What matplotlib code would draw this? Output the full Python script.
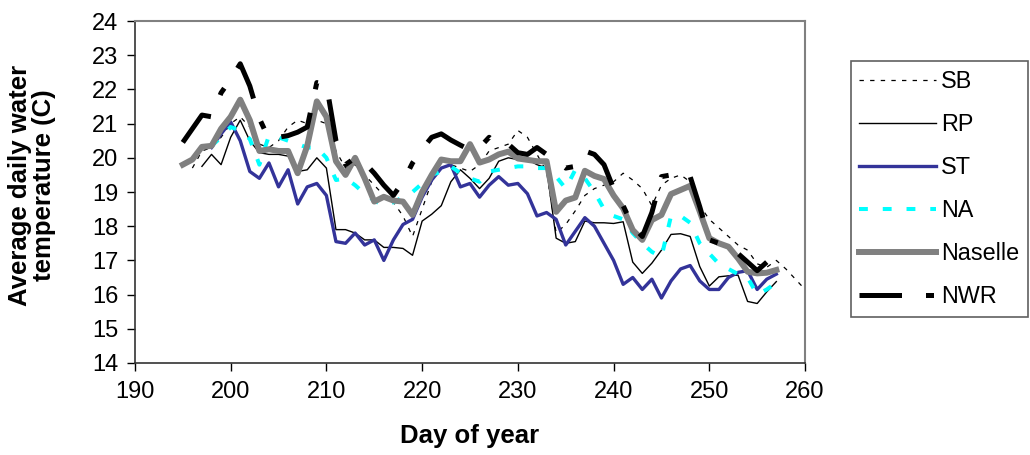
import numpy as np
import matplotlib
matplotlib.use("Agg")
import matplotlib.pyplot as plt

plt.rcParams['font.family'] = ['Liberation Sans', 'DejaVu Sans']

# daily mean water temperature (C), one value per day starting at the given day
sb_start = 196
sb = [19.7, 20.2, 20.3, 20.6, 21.0, 21.2, 20.9, 20.4, 20.3, 20.5,
      20.9, 21.1, 21.0, 21.1, 21.0, 20.2, 19.7, 19.8, 19.5, 19.2,
      18.9, 18.7, 18.3, 17.7, 18.5, 19.3, 19.7, 19.8, 19.7, 19.6,
      19.8, 20.2, 20.3, 20.4, 20.8, 20.6, 20.1, 19.6, 17.8, 18.05,
      18.45, 18.9, 19.1, 19.2, 19.3, 19.55, 19.35, 19.1, 18.6, 19.2,
      19.4, 19.5, 19.3, 18.6, 18.2, 17.95, 17.7, 17.45, 17.3, 16.9,
      16.8, 17.0, 16.75, 16.45, 16.15, 16.6]

rp_start = 197
rp = [19.75, 20.1, 19.8, 20.6, 21.1, 20.5, 20.15, 20.1, 20.1, 20.05,
      19.6, 19.65, 20.0, 19.7, 17.9, 17.9, 17.8, 17.6, 17.6, 17.38,
      17.38, 17.35, 17.15, 18.15, 18.35, 18.6, 19.3, 19.65, 19.4, 19.1,
      19.4, 19.9, 20.0, 19.95, 19.95, 19.8, 19.7, 17.65, 17.5, 17.55,
      18.15, 18.1, 18.1, 18.08, 18.13, 16.95, 16.62, 16.92, 17.3, 17.76,
      17.78, 17.7, 16.82, 16.25, 16.52, 16.55, 16.57, 15.8, 15.74, 16.08,
      16.38]

st_start = 198
st = [20.3, 20.7, 21.05, 20.5, 19.6, 19.4, 19.85, 19.15, 19.65, 18.65,
      19.15, 19.25, 18.9, 17.55, 17.5, 17.8, 17.45, 17.6, 17.0, 17.6,
      18.05, 18.2, 18.85, 19.35, 19.7, 19.8, 19.15, 19.25, 18.85, 19.2,
      19.45, 19.2, 19.25, 18.95, 18.3, 18.4, 18.2, 17.45, 17.85, 18.25,
      18.0, 17.5, 17.0, 16.3, 16.5, 16.15, 16.45, 15.9, 16.4, 16.75,
      16.85, 16.4, 16.15, 16.15, 16.5, 16.65, 16.7, 16.15, 16.45, 16.6]

na_start = 198
na = [20.35, 20.6, 20.9, 20.8, 20.55, 19.8, 20.65, 20.6, 20.5, 20.4,
      20.3, 20.3, 20.0, 19.35, 19.4, 19.2, 18.95, 18.75, 18.6, 18.7,
      18.85, 19.0, 19.25, 19.5, 19.6, 19.75, 19.55, 19.4, 19.3, 19.6,
      19.65, 19.7, 19.75, 19.75, 19.7, 19.7, 19.45, 19.1, 19.65, 19.4,
      19.0, 18.5, 18.3, 18.2, 17.8, 17.5, 17.25, 17.1, 18.3, 18.3,
      18.1, 17.5, 17.2, 16.9, 16.75, 16.6, 16.5, 16.0, 16.15, 16.35]

naselle_start = 195
naselle = [19.8, 19.95, 20.32, 20.35, 20.85, 21.2, 21.7, 21.1, 20.2, 20.25,
           20.2, 20.2, 19.55, 20.35, 21.65, 21.2, 19.9, 19.5, 20.0, 19.4,
           18.72, 18.86, 18.75, 18.72, 18.33, 19.0, 19.5, 19.95, 19.9, 19.9,
           20.4, 19.86, 19.95, 20.1, 20.18, 19.98, 19.94, 19.9, 19.9, 18.42,
           18.75, 18.84, 19.62, 19.47, 19.38, 18.9, 18.52, 17.89, 17.6, 18.18,
           18.33, 18.94, 19.06, 19.18, 18.43, 17.65, 17.5, 17.4, 17.06, 16.67,
           16.62, 16.64, 16.72]

nwr_start = 195
nwr = [20.45, 20.85, 21.25, 21.2, 21.9, 22.3, 22.75, 22.1, 21.15, 20.55,
       20.6, 20.65, 20.75, 20.9, 22.2, 22.15, 20.5, 19.8, 20.0, 19.85,
       19.55, 19.2, 18.9, 19.3, 19.85, 20.25, 20.6, 20.7, 20.52, 20.37,
       20.23, 20.3, 20.6, 20.35, 20.4, 20.15, 20.1, 20.3, 20.1, 19.9,
       19.7, 19.75, 20.2, 20.1, 19.8, 19.1, 18.6, 18.0, 17.7, 18.4,
       19.45, 19.5, 19.6, 19.45, 18.57, 17.6, 17.5, 17.4, 17.2, 16.95,
       16.7, 16.95]

fig = plt.figure(figsize=(10.3, 4.55), dpi=100)
ax = fig.add_axes([0.131, 0.2022, 0.6506, 0.7516])


def days(start, vals):
    return np.arange(start, start + len(vals))


ax.plot(days(sb_start, sb), sb, color='black', lw=0.9, dashes=(3.5, 5.0), label='SB')
ax.plot(days(rp_start, rp), rp, color='black', lw=1.0, label='RP')
ax.plot(days(st_start, st), st, color='#333399', lw=2.4, label='ST')
ax.plot(days(na_start, na), na, color='#00ffff', lw=2.9, dashes=(2.2, 3.7), label='NA')
ax.plot(days(naselle_start, naselle), naselle, color='#808080', lw=4.3, label='Naselle')
ax.plot(days(nwr_start, nwr), nwr, color='black', lw=3.6,
        dashes=(8.5, 4.8, 1.6, 4.8), label='NWR')

ax.set_xlim(190, 260)
ax.set_ylim(14, 24)
ax.set_xticks(range(190, 261, 10))
ax.set_yticks(range(14, 25))
ax.tick_params(axis='both', direction='out', length=6, width=1, labelsize=17)
ax.tick_params(axis='y', pad=6)
ax.tick_params(axis='x', pad=7)

for side in ['top', 'right']:
    ax.spines[side].set_color('#808080')
    ax.spines[side].set_linewidth(1.5)
for side in ['left', 'bottom']:
    ax.spines[side].set_color('#333333')
    ax.spines[side].set_linewidth(1.2)

ax.set_xlabel('Day of year', fontsize=18.5, fontweight='bold', va='top')
ax.xaxis.set_label_coords(0.5, -0.178)
ax.set_ylabel('Average daily water\ntemperature (C)', fontsize=18.5, fontweight='bold',
              linespacing=1.0)
ax.yaxis.set_label_coords(-0.118, 0.52)

leg = ax.legend(loc='upper left', bbox_to_anchor=(1.068, 0.883), fontsize=16.8,
                handlelength=3.3, handletextpad=0.2, labelspacing=0.86,
                borderpad=0.38, borderaxespad=0, fancybox=False, framealpha=1,
                edgecolor='#606060')
leg.get_frame().set_linewidth(1.2)

fig.savefig('out.png', dpi=100)
